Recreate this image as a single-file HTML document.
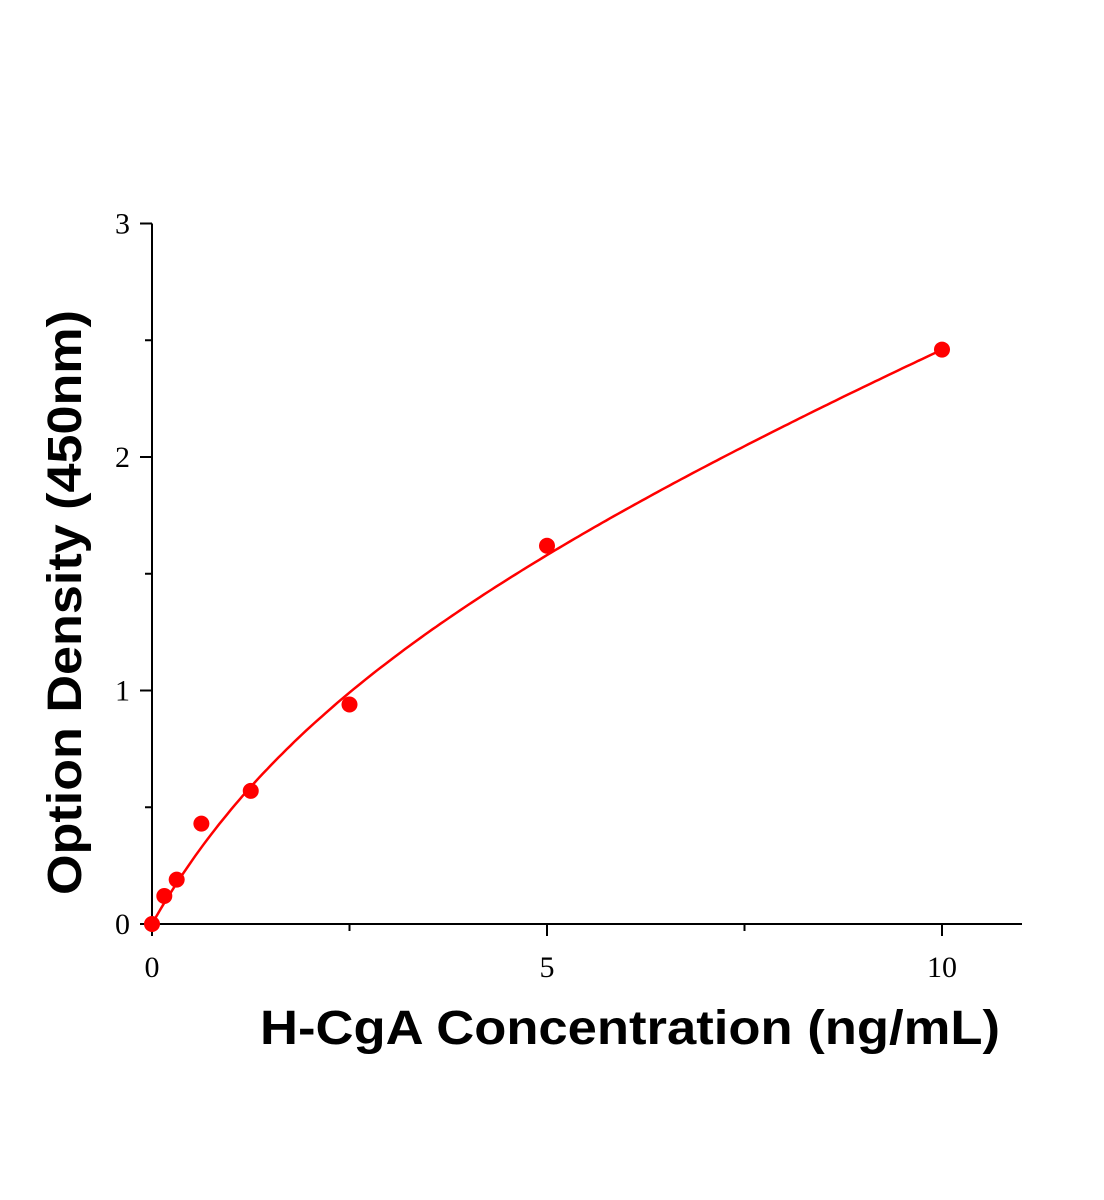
<!DOCTYPE html>
<html><head><meta charset="utf-8"><style>
html,body{margin:0;padding:0;background:#fff;}
svg{display:block;}
</style></head><body>
<svg id="chart" width="1104" height="1200" xmlns="http://www.w3.org/2000/svg"></svg>
<script>
const xTicks=[0,5,10];
const xMinor=[2.5,7.5];
const yTicks=[0,1,2,3];
const yMinor=[0.5,1.5,2.5];
const xValues=[0,0.156,0.3125,0.625,1.25,2.5,5,10];
const yValues=[0,0.12,0.19,0.43,0.57,0.94,1.62,2.46];
const fitParams=[1.54,3.28,0.13];
const NS='http://www.w3.org/2000/svg';
const svg=document.getElementById('chart');
const X0=152,XS=79,Y0=924,YS=233.5;
const sx=v=>X0+v*XS, sy=v=>Y0-v*YS;
function mk(t,a,p){const e=document.createElementNS(NS,t);for(const k in a)e.setAttribute(k,a[k]);(p||svg).appendChild(e);return e;}
const axes=mk('g',{});


const xa=mk('line',{x1:X0,y1:Y0,x2:1022,y2:Y0,stroke:'#000','stroke-width':2},axes);


const ya=mk('line',{x1:X0,y1:Y0,x2:X0,y2:sy(3),stroke:'#000','stroke-width':2},axes);


xTicks.forEach(v=>{
  mk('line',{x1:sx(v),y1:Y0,x2:sx(v),y2:Y0+12,stroke:'#000','stroke-width':2},axes);
  const t=mk('text',{x:sx(v),y:Y0+53,'text-anchor':'middle','font-family':'Liberation Serif, serif','font-size':30},axes);
  t.textContent=v;
  
  
});
xMinor.forEach(v=>mk('line',{x1:sx(v),y1:Y0,x2:sx(v),y2:Y0+7,stroke:'#000','stroke-width':2},axes));
yTicks.forEach(v=>{
  mk('line',{x1:X0-12,y1:sy(v),x2:X0,y2:sy(v),stroke:'#000','stroke-width':2},axes);
  const t=mk('text',{x:X0-22,y:sy(v)+10,'text-anchor':'end','font-family':'Liberation Serif, serif','font-size':30},axes);
  t.textContent=v;
  
  
});
yMinor.forEach(v=>mk('line',{x1:X0-7,y1:sy(v),x2:X0,y2:sy(v),stroke:'#000','stroke-width':2},axes));
let d='';
for(let i=0;i<=200;i++){const x=10*i/200;const y=fitParams[0]*x/(fitParams[1]+x)+fitParams[2]*x;d+=(i?'L':'M')+sx(x).toFixed(1)+','+sy(y).toFixed(1);}
const c=mk('path',{d:d,fill:'none',stroke:'#ff0000','stroke-width':2.5});


xValues.forEach((x,i)=>{
  const p=mk('circle',{cx:sx(x),cy:sy(yValues[i]),r:8,fill:'#ff0000'});
  
  
});
const xt=mk('text',{x:260,y:1044,'font-family':'Liberation Sans, sans-serif','font-size':48,'font-weight':'bold',textLength:740,lengthAdjust:'spacingAndGlyphs'});
xt.textContent='H-CgA Concentration (ng/mL)';


const yt=mk('text',{x:0,y:0,'font-family':'Liberation Sans, sans-serif','font-size':48,'font-weight':'bold',textLength:585,lengthAdjust:'spacingAndGlyphs',transform:'translate(81,895) rotate(-90)'});
yt.textContent='Option Density (450nm)';


</script>
</body></html>
